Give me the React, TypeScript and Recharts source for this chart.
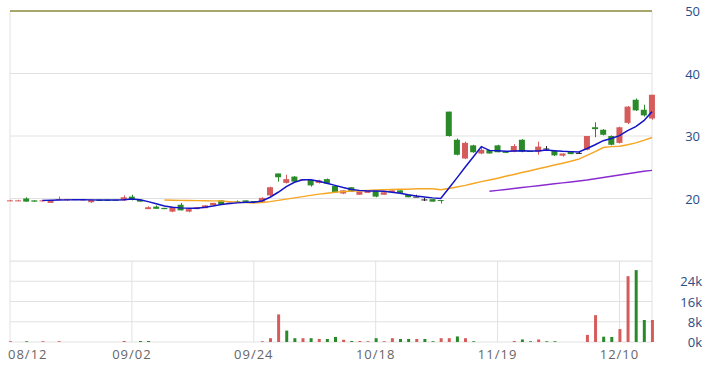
import React from 'react';
import { ComposedChart, Bar, Line, XAxis, YAxis, CartesianGrid, ReferenceLine, Cell } from 'recharts';

// x axis labels, placed every 15 bars
const tickIdx = [0, 15, 30, 45, 60, 75];
const tickLabels = ['08/12', '09/02', '09/24', '10/18', '11/19', '12/10'];

const opens = [
  19.6, 19.6, 20.0, 19.7, 19.6, 19.3, 19.8, 19.7, 19.9, 19.7,
  19.4, 19.8, 19.8, 19.8, 19.7, 20.3, 19.8, 18.3, 18.7, 18.5,
  17.9, 19.0, 17.9, 18.3, 18.45, 18.9, 19.7, 19.1, 19.55, 19.7,
  19.6, 19.4, 20.5, 24.0, 22.5, 23.5, 23.0, 23.0, 22.5, 23.1,
  22.0, 20.8, 21.8, 20.6, 20.9, 21.2, 20.6, 21.0, 21.3, 20.6,
  20.3, 19.85, 19.9, 19.75, 33.9, 29.4, 26.4, 28.5, 27.2, 27.75,
  28.5, 27.5, 27.5, 29.4, 27.6, 27.5, 28.0, 27.6, 26.85, 27.6,
  27.3, 27.8, 31.4, 31.0, 30.0, 28.9, 32.1, 35.8, 34.2, 32.8,
];
const highs = [
  19.8, 19.8, 20.2, 19.7, 19.8, 19.7, 20.3, 19.9, 19.9, 19.9,
  19.9, 19.8, 19.8, 19.8, 20.5, 20.6, 19.8, 18.75, 18.9, 18.5,
  18.7, 19.3, 18.3, 18.6, 18.9, 19.3, 19.7, 19.35, 19.7, 19.7,
  19.6, 20.2, 21.9, 24.0, 23.8, 23.6, 23.1, 23.0, 23.0, 23.2,
  22.0, 21.3, 21.8, 21.15, 21.3, 21.3, 21.0, 21.3, 21.3, 20.6,
  20.6, 20.1, 19.9, 19.75, 33.9, 29.6, 29.1, 28.6, 28.4, 27.8,
  28.6, 27.5, 28.7, 29.5, 27.6, 29.1, 28.4, 27.7, 27.2, 27.6,
  27.5, 30.0, 32.2, 31.1, 30.1, 31.5, 34.8, 36.0, 35.0, 36.6,
];
const lows = [
  19.6, 19.6, 19.5, 19.5, 19.5, 19.3, 19.8, 19.6, 19.8, 19.7,
  19.3, 19.6, 19.6, 19.7, 19.6, 19.7, 19.5, 18.3, 18.35, 18.3,
  17.8, 18.1, 17.8, 18.3, 18.45, 18.9, 19.1, 19.1, 19.3, 19.4,
  19.3, 19.3, 20.4, 22.7, 22.4, 22.6, 22.9, 21.9, 22.4, 22.3,
  20.9, 20.7, 21.1, 20.6, 20.9, 20.2, 20.6, 21.0, 20.9, 20.2,
  20.3, 19.6, 19.5, 19.2, 29.9, 26.9, 26.3, 27.3, 27.1, 27.2,
  27.4, 27.3, 27.4, 27.4, 27.45, 27.0, 27.6, 26.8, 26.7, 27.1,
  27.2, 27.7, 29.8, 30.1, 28.5, 28.8, 31.9, 34.0, 33.1, 32.6,
];
const closes = [
  19.7, 19.7, 19.5, 19.5, 19.7, 19.7, 19.9, 19.9, 19.8, 19.9,
  19.8, 19.6, 19.6, 19.7, 20.2, 19.8, 19.5, 18.6, 18.35, 18.3,
  18.6, 18.1, 18.3, 18.6, 18.9, 19.3, 19.1, 19.35, 19.5, 19.4,
  19.3, 20.1, 21.8, 23.4, 23.1, 22.7, 23.05, 22.1, 22.9, 22.4,
  21.0, 21.3, 21.1, 21.15, 21.3, 20.3, 21.0, 21.3, 20.9, 20.2,
  20.3, 19.85, 19.5, 19.6, 30.0, 27.0, 28.9, 27.4, 27.8, 27.2,
  27.4, 27.3, 28.4, 27.5, 27.45, 28.3, 28.0, 26.9, 27.2, 27.1,
  27.3, 30.0, 31.1, 30.2, 28.6, 31.4, 34.7, 34.1, 33.3, 36.6,
];
const volumes = [
  300, 0, 300, 0, 300, 0, 300, 0, 0, 0,
  0, 0, 0, 0, 400, 0, 400, 400, 0, 0,
  0, 0, 0, 0, 0, 0, 0, 0, 0, 0,
  0, 300, 1500, 10900, 4500, 1500, 1500, 1500, 1200, 1200,
  2000, 900, 400, 400, 300, 1500, 300, 1500, 1200, 1200,
  1200, 1200, 300, 1500, 1500, 2200, 1500, 300, 0, 0,
  0, 0, 400, 1000, 300, 1000, 300, 300, 0, 0,
  0, 2800, 10600, 2100, 2000, 5100, 26000, 28400, 8700, 8700,
];
const ma5 = [
  null, null, null, null, 19.7, 19.72, 19.75, 19.78, 19.8, 19.8,
  19.78, 19.78, 19.75, 19.75, 19.8, 19.9, 19.8, 19.5, 19.15, 18.8,
  18.6, 18.5, 18.45, 18.45, 18.6, 18.8, 19.05, 19.2, 19.3, 19.4,
  19.4, 19.6, 20.2, 21.0, 21.9, 22.6, 23.0, 23.0, 22.75, 22.45,
  22.1, 21.75, 21.45, 21.3, 21.2, 21.2, 21.15, 21.0, 20.85, 20.6,
  20.4, 20.25, 20.1, 20.0, 21.65, 23.3, 25.0, 26.65, 28.3, 27.7,
  27.65, 27.55, 27.6, 27.65, 27.6, 27.6, 27.75, 27.65, 27.55, 27.5,
  27.45, 28.0, 28.6, 29.25, 29.6, 30.05, 30.85, 31.5, 32.45, 33.9,
];
const ma20 = [
  null, null, null, null, null, null, null, null, null, null,
  null, null, null, null, null, null, null, null, null, 19.75,
  19.72, 19.7, 19.68, 19.66, 19.64, 19.62, 19.6, 19.5, 19.4, 19.35,
  19.3, 19.35, 19.5, 19.7, 19.9, 20.1, 20.3, 20.5, 20.7, 20.85,
  21.0, 21.1, 21.2, 21.25, 21.3, 21.35, 21.4, 21.45, 21.5, 21.5,
  21.55, 21.55, 21.55, 21.4, 21.6, 21.85, 22.1, 22.4, 22.7, 22.95,
  23.25, 23.55, 23.85, 24.15, 24.45, 24.75, 25.05, 25.35, 25.65, 25.95,
  26.3, 26.9, 27.5, 28.15, 28.3, 28.35, 28.6, 28.9, 29.3, 29.75,
];
const ma60 = [
  null, null, null, null, null, null, null, null, null, null,
  null, null, null, null, null, null, null, null, null, null,
  null, null, null, null, null, null, null, null, null, null,
  null, null, null, null, null, null, null, null, null, null,
  null, null, null, null, null, null, null, null, null, null,
  null, null, null, null, null, null, null, null, null, 21.15,
  21.3, 21.45, 21.6, 21.75, 21.9, 22.05, 22.2, 22.35, 22.5, 22.65,
  22.8, 22.95, 23.15, 23.35, 23.55, 23.75, 23.95, 24.15, 24.35, 24.5,
];

const RED = '#d65c5c';
const GREEN = '#2a8a2a';
const DOJI = '#222222';
const GRID = '#e2e2e2';
const AXIS_BLUE = '#2b4c86';
const FONT = '"Open Sans", "DejaVu Sans", sans-serif';

const data = closes.map((c, i) => ({
  i,
  open: opens[i],
  high: highs[i],
  low: lows[i],
  close: c,
  vol: volumes[i],
  ma5: ma5[i],
  ma20: ma20[i],
  ma60: ma60[i],
  up: i === 0 ? c >= opens[i] : c >= closes[i - 1],
}));

// candle drawn from a [low, high] range bar
const Candle = (props: any) => {
  const { x, y, width, height, payload } = props;
  const { open, close, high, low } = payload;
  const h = Math.abs(height);
  const top = Math.min(y, y + height);
  const k = high > low ? h / (high - low) : 0;
  const py = (v: number) => top + (high - v) * k;
  const color = close > open ? RED : close < open ? GREEN : DOJI;
  const cx = Math.round(x + width / 2) + 0.5;
  const bTop = py(Math.max(open, close));
  const bH = Math.max(1, py(Math.min(open, close)) - bTop);
  return (
    <g>
      <line x1={cx} x2={cx} y1={top} y2={top + h} stroke={color} strokeWidth={1} />
      <rect x={x} y={bTop} width={width} height={bH} fill={color} />
    </g>
  );
};

const PriceTick = (props: any) => {
  const { x, y, payload } = props;
  if (payload.value === 10) return <g />;
  return (
    <text x={x + 40} y={y} dy={5} textAnchor="end" fill={AXIS_BLUE} fontSize={13} fontFamily={FONT}>
      {payload.value}
    </text>
  );
};

const VolTick = (props: any) => {
  const { x, y, payload } = props;
  if (payload.value === 32000) return <g />;
  return (
    <text x={x + 42} y={y} dy={5} textAnchor="end" fill={AXIS_BLUE} fontSize={13} fontFamily={FONT}>
      {payload.value / 1000}k
    </text>
  );
};

const DateTick = (props: any) => {
  const { x, y, payload } = props;
  const label = tickLabels[tickIdx.indexOf(payload.value)];
  const first = payload.value === 0;
  return (
    <text
      x={first ? x - 2 : x}
      y={y}
      dy="0.71em"
      textAnchor={first ? 'start' : 'middle'}
      fill="#666"
      fontSize={13}
      letterSpacing={1}
      fontFamily={FONT}
    >
      {label}
    </text>
  );
};

export default function App() {
  return (
    <div style={{ position: 'absolute', left: 0, top: 0, width: 722, height: 369, background: '#fff' }}>
      <div style={{ position: 'absolute', left: 0, top: 0 }}>
        <ComposedChart width={722} height={262} data={data} margin={{ top: 11, right: 10, bottom: 1, left: 10 }}>
          <CartesianGrid stroke={GRID} />
          <XAxis
            dataKey="i"
            type="number"
            domain={[0, 79]}
            ticks={tickIdx}
            tick={false}
            axisLine={false}
            tickLine={false}
            height={0}
          />
          <YAxis
            orientation="right"
            domain={[10, 50]}
            ticks={[10, 20, 30, 40, 50]}
            interval={0}
            width={60}
            axisLine={false}
            tickLine={false}
            tick={<PriceTick />}
          />
          <ReferenceLine y={50} stroke="#8f8f40" strokeWidth={1.5} />
          <Bar dataKey={(d: any) => [d.low, d.high]} barSize={6} shape={Candle} isAnimationActive={false} />
          <Line dataKey="ma60" stroke="#8a2bd0" strokeWidth={1.5} dot={false} isAnimationActive={false} />
          <Line dataKey="ma20" stroke="#f5a623" strokeWidth={1.5} dot={false} isAnimationActive={false} />
          <Line dataKey="ma5" stroke="#1414c8" strokeWidth={1.5} dot={false} isAnimationActive={false} />
        </ComposedChart>
      </div>
      <div style={{ position: 'absolute', left: 0, top: 261 }}>
        <ComposedChart width={722} height={108} data={data} margin={{ top: 0, right: 10, bottom: 0, left: 10 }}>
          <CartesianGrid stroke={GRID} />
          <XAxis
            dataKey="i"
            type="number"
            domain={[0, 79]}
            ticks={tickIdx}
            interval={0}
            axisLine={false}
            tickLine={false}
            height={27}
            tick={<DateTick />}
          />
          <YAxis
            orientation="right"
            domain={[0, 32000]}
            ticks={[0, 8000, 16000, 24000, 32000]}
            interval={0}
            width={60}
            axisLine={false}
            tickLine={false}
            tick={<VolTick />}
          />
          <Bar dataKey="vol" barSize={3} isAnimationActive={false}>
            {data.map((d) => (
              <Cell key={d.i} fill={d.up ? RED : GREEN} />
            ))}
          </Bar>
        </ComposedChart>
      </div>
    </div>
  );
}
